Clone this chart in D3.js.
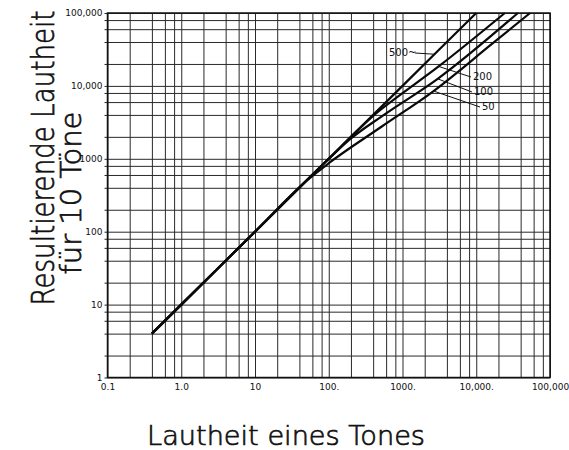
<!DOCTYPE html>
<html>
<head>
<meta charset="utf-8">
<script src="https://cdn.jsdelivr.net/npm/d3@7"></script>
<style>
body { margin: 0; background: #fff; }
text { font-family: "DejaVu Sans", sans-serif; fill: #111; }
.title { stroke: #111; stroke-width: 0.7; }
</style>
</head>
<body>
<div id="graphArea"></div>
<script>
// tick values and labels
var xTicks = [0.1, 1, 10, 100, 1000, 10000, 100000];
var xTickLabels = ["0.1", "1.0", "10", "100.", "1000.", "10,000.", "100,000"];
var yTicks = [1, 10, 100, 1000, 10000, 100000];
var yTickLabels = ["1", "10", "100", "1000", "10,000", "100,000"];
var gridSteps = [1, 2, 4, 6, 8];

// loudness of one tone (x) vs resulting loudness of 10 tones (y), per frequency spacing
var curveNames = ["500~", "200", "100", "50"];
var x500 = [0.4, 1, 10, 100, 1000, 10000];
var y500 = [4, 10, 100, 1000, 10000, 100000];
var x200 = [0.4, 1, 10, 100, 250, 450, 600, 3090, 24400];
var y200 = [4, 10, 100, 1000, 2500, 4300, 5400, 18500, 100000];
var x100 = [0.4, 1, 10, 100, 200, 518, 3000, 36700];
var y100 = [4, 10, 100, 1000, 1900, 3800, 12500, 100000];
var x50 = [0.4, 1, 10, 50, 100, 518, 2640, 16000, 53700];
var y50 = [4, 10, 100, 500, 870, 2750, 8500, 37000, 100000];

var plotLeft = 107.5, plotRight = 550, plotTop = 13, plotBottom = 377.5;

var svg = d3.select("#graphArea").append("svg")
  .attr("width", 569)
  .attr("height", 450);
svg.append("rect").attr("width", 569).attr("height", 450).attr("fill", "#fff");

var x = d3.scaleLog().domain([0.1, 100000]).range([plotLeft, plotRight]);
var y = d3.scaleLog().domain([1, 100000]).range([plotBottom, plotTop]);

var gridX = [], gridY = [];
for (var k = -1; k < 5; k++) gridSteps.forEach(function(s) { gridX.push(s * Math.pow(10, k)); });
gridX.push(100000);
for (var k = 0; k < 5; k++) gridSteps.forEach(function(s) { gridY.push(s * Math.pow(10, k)); });
gridY.push(100000);

// grid
var gx = svg.append("g")
  .attr("transform", "translate(0," + plotBottom + ")")
  .call(d3.axisBottom(x).tickValues(gridX).tickSize(-(plotBottom - plotTop)).tickFormat(""));
var gy = svg.append("g")
  .attr("transform", "translate(" + plotLeft + ",0)")
  .call(d3.axisLeft(y).tickValues(gridY).tickSizeInner(-(plotRight - plotLeft)).tickSizeOuter(0).tickFormat(""));
// small ticks left of the y axis
var gt = svg.append("g")
  .attr("transform", "translate(" + plotLeft + ",0)")
  .call(d3.axisLeft(y).tickValues(gridY).tickSize(3).tickFormat(""));
[gx, gy, gt].forEach(function(g) {
  g.select(".domain").remove();
  g.selectAll("line").attr("stroke", "#2a2a2a").attr("stroke-width", 1);
});

// frame
svg.append("rect")
  .attr("x", plotLeft).attr("y", plotTop)
  .attr("width", plotRight - plotLeft).attr("height", plotBottom - plotTop)
  .attr("fill", "none").attr("stroke", "#111").attr("stroke-width", 1.5);

// tick labels
var ax = svg.append("g")
  .attr("transform", "translate(0," + (plotBottom + 3) + ")")
  .call(d3.axisBottom(x).tickValues(xTicks).tickSize(0)
    .tickFormat(function(d, i) { return xTickLabels[i]; }));
ax.select(".domain").remove();
ax.selectAll("text").attr("font-size", 9).attr("font-family", "DejaVu Sans").attr("fill", "#111");

var ay = svg.append("g")
  .attr("transform", "translate(" + (plotLeft - 2) + ",0)")
  .call(d3.axisLeft(y).tickValues(yTicks).tickSize(0)
    .tickFormat(function(d, i) { return yTickLabels[i]; }));
ay.select(".domain").remove();
ay.selectAll("text").attr("font-size", 9).attr("font-family", "DejaVu Sans").attr("fill", "#111");

// curves
var series = [
  { name: curveNames[0], xs: x500, ys: y500 },
  { name: curveNames[1], xs: x200, ys: y200 },
  { name: curveNames[2], xs: x100, ys: y100 },
  { name: curveNames[3], xs: x50, ys: y50 }
];
var line = d3.line()
  .x(function(d) { return x(d[0]); })
  .y(function(d) { return y(d[1]); })
  .curve(d3.curveMonotoneX);

svg.append("g").selectAll("path")
  .data(series)
  .enter()
  .append("path")
  .attr("d", function(s) { return line(s.xs.map(function(v, i) { return [v, s.ys[i]]; })); })
  .attr("fill", "none")
  .attr("stroke", "#0a0a0a")
  .attr("stroke-width", 2.2);

// value on a curve (log-log interpolation) for the leader tips
function valueAt(s, v) {
  for (var i = 1; i < s.xs.length; i++) {
    if (v <= s.xs[i]) {
      var t = (Math.log(v) - Math.log(s.xs[i - 1])) / (Math.log(s.xs[i]) - Math.log(s.xs[i - 1]));
      return Math.exp(Math.log(s.ys[i - 1]) + t * (Math.log(s.ys[i]) - Math.log(s.ys[i - 1])));
    }
  }
  return s.ys[s.ys.length - 1];
}

// labels with leaders
var labelAt = [2720, 3090, 3000, 2640];
var labelPos = [[389, 56, 415, 53], [473, 80, 471, 77], [474, 95, 472, 92], [482, 110, 480, 107]];
series.forEach(function(s, i) {
  var tipX = x(labelAt[i]), tipY = y(valueAt(s, labelAt[i]));
  var p = labelPos[i];
  svg.append("line")
    .attr("x1", p[2]).attr("y1", p[3])
    .attr("x2", tipX).attr("y2", tipY)
    .attr("stroke", "#111").attr("stroke-width", 1);
  svg.append("text")
    .attr("x", p[0]).attr("y", p[1])
    .attr("font-size", 10)
    .text(s.name);
});

// axis titles
svg.append("text")
  .attr("class", "title")
  .attr("transform", "translate(54,158) rotate(-90)")
  .attr("text-anchor", "middle")
  .attr("font-size", 32)
  .attr("font-weight", 200)
  .attr("textLength", 295)
  .attr("lengthAdjust", "spacingAndGlyphs")
  .text("Resultierende Lautheit");
svg.append("text")
  .attr("class", "title")
  .attr("transform", "translate(81,193) rotate(-90)")
  .attr("text-anchor", "middle")
  .attr("font-size", 29)
  .attr("font-weight", 200)
  .attr("textLength", 163)
  .attr("lengthAdjust", "spacingAndGlyphs")
  .text("für 10 Töne");
svg.append("text")
  .attr("class", "title")
  .attr("x", 286).attr("y", 445)
  .attr("text-anchor", "middle")
  .attr("font-size", 27)
  .attr("font-weight", 200)
  .attr("textLength", 278)
  .attr("lengthAdjust", "spacingAndGlyphs")
  .text("Lautheit eines Tones");
</script>
</body>
</html>
